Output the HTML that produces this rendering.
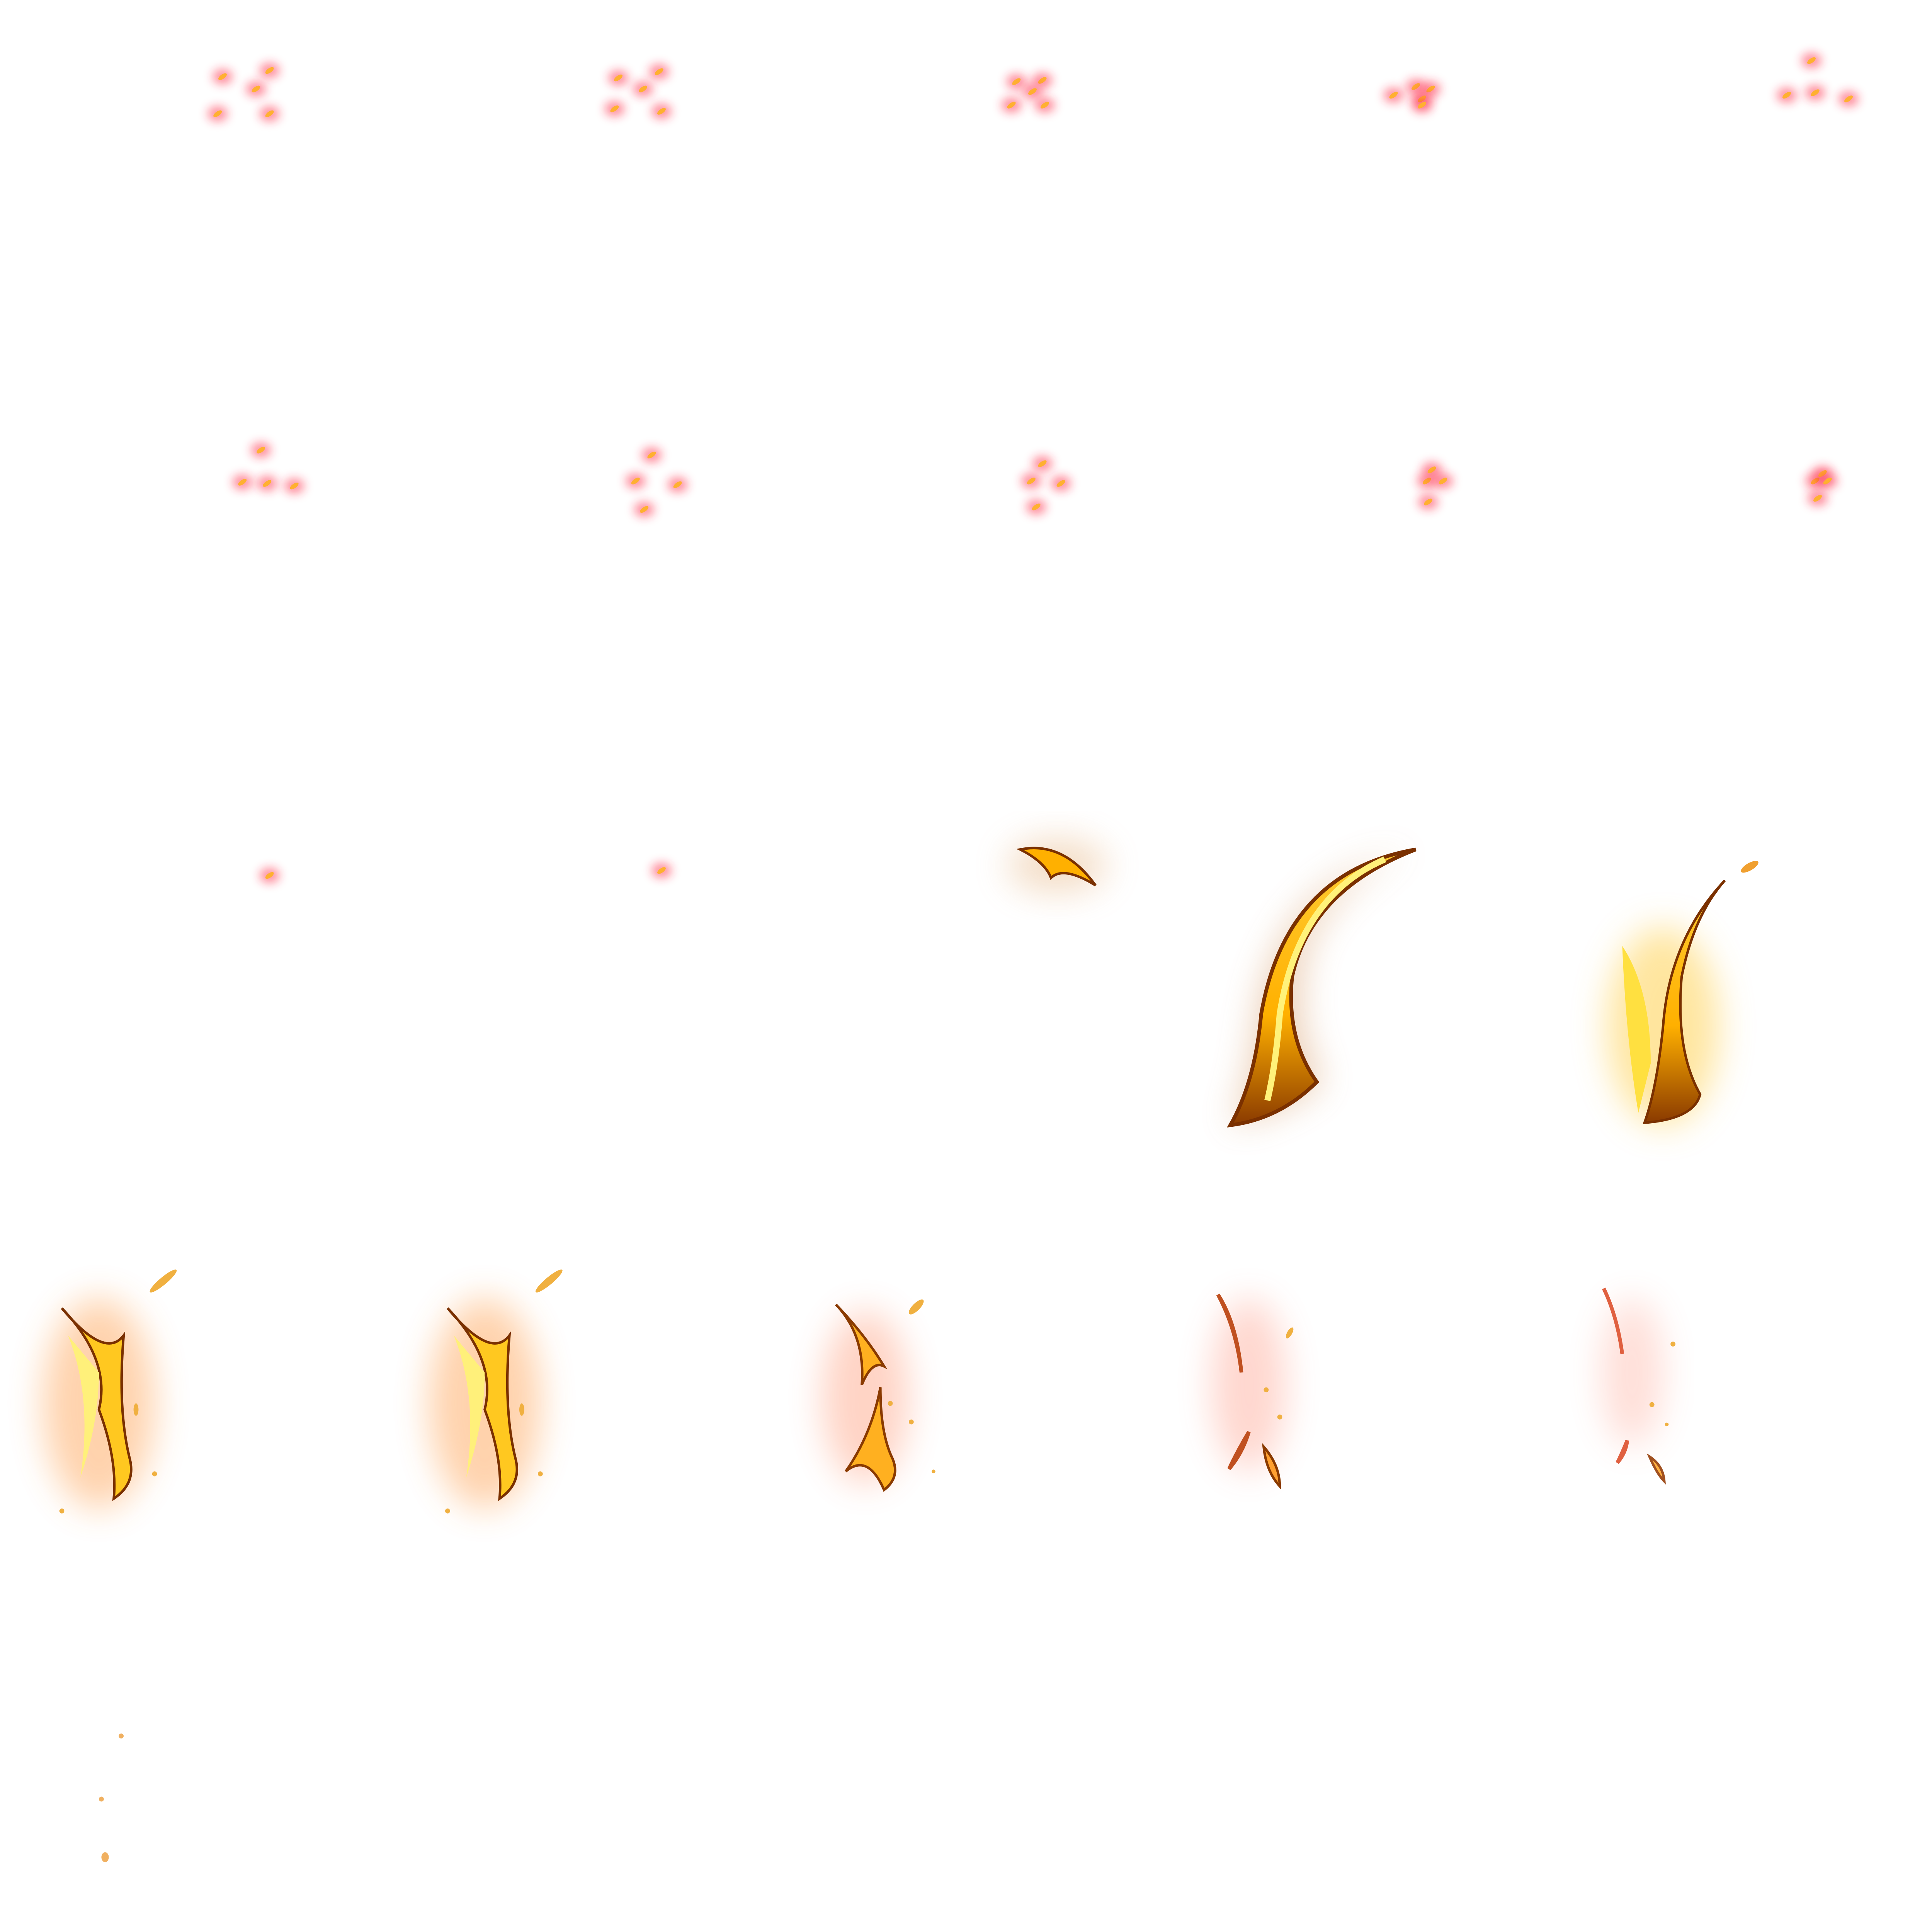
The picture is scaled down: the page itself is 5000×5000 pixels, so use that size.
<!DOCTYPE html>
<html><head><meta charset="utf-8"><style>
html,body{margin:0;padding:0;background:#fff;width:5000px;height:5000px;overflow:hidden}
svg{display:block}
</style></head><body>
<svg id="sheet" width="5000" height="5000" viewBox="0 0 1562.5 1562.5" xmlns="http://www.w3.org/2000/svg">
<defs>
<filter id="glow" x="-100%" y="-100%" width="300%" height="300%"><feGaussianBlur stdDeviation="4"/></filter>
<filter id="bigglow" x="-50%" y="-50%" width="200%" height="200%"><feGaussianBlur stdDeviation="14"/></filter>
<linearGradient id="flame" x1="0" y1="0" x2="0" y2="1"><stop offset="0" stop-color="#ffcc33"/><stop offset="0.6" stop-color="#ffb000"/><stop offset="1" stop-color="#8a3a00"/></linearGradient>
</defs>
<g id="sparks"></g>
<g id="flames">
  <g>
    <ellipse cx="855" cy="700" rx="40" ry="22" fill="#e0a060" opacity="0.35" filter="url(#bigglow)"/>
    <path d="M825 687 Q860 680 886 716 Q860 700 850 710 Q845 697 825 687Z" fill="#ffb000" stroke="#7a3000" stroke-width="2"/>
  </g>
  <g>
    <path d="M1145 687 Q1030 710 1015 830 Q1010 880 995 910 Q1040 900 1070 875 Q1040 820 1060 760 Q1090 705 1145 687Z" fill="#d08a50" opacity="0.4" filter="url(#bigglow)"/>
    <path d="M1145 687 Q1040 705 1020 820 Q1015 875 995 910 Q1035 905 1065 875 Q1040 840 1045 790 Q1060 720 1145 687Z" fill="url(#flame)" stroke="#7a3000" stroke-width="3"/>
    <path d="M1120 695 Q1050 725 1035 820 Q1032 860 1025 890" stroke="#fff27a" stroke-width="5" fill="none"/>
  </g>
  <g>
    <ellipse cx="1345" cy="830" rx="45" ry="80" fill="#ffcc40" opacity="0.5" filter="url(#bigglow)"/>
    <path d="M1395 712 Q1350 760 1345 830 Q1340 880 1330 908 Q1370 905 1375 885 Q1355 850 1360 790 Q1370 740 1395 712Z" fill="url(#flame)" stroke="#7a3000" stroke-width="2"/>
    <path d="M1312 765 Q1335 800 1335 860 L1325 900 Q1315 840 1312 765Z" fill="#ffe040"/>
    <ellipse cx="1415" cy="701" rx="8" ry="3" fill="#f0a030" transform="rotate(-30 1415 701)"/>
  </g>
</g>
<g id="row4"></g>
<g>
  <ellipse cx="700" cy="1130" rx="35" ry="70" fill="#ff7040" opacity="0.3" filter="url(#bigglow)"/>
  <path d="M676 1055 Q700 1080 697 1120 Q705 1100 715 1105 Q700 1080 676 1055Z" fill="#ffb020" stroke="#8a3a00" stroke-width="2"/>
  <path d="M712 1122 Q705 1160 684 1190 Q702 1175 715 1205 Q728 1195 722 1180 Q712 1160 712 1122Z" fill="#ffb020" stroke="#8a3a00" stroke-width="2"/>
  <ellipse cx="741" cy="1057" rx="8" ry="3" fill="#f0b040" transform="rotate(-45 741 1057)"/>
  <circle cx="720" cy="1135" r="2" fill="#f0b040"/><circle cx="737" cy="1150" r="2" fill="#f0b040"/><circle cx="755" cy="1190" r="1.5" fill="#f0b040"/>
</g>
<g>
  <ellipse cx="1010" cy="1120" rx="30" ry="70" fill="#ff6040" opacity="0.25" filter="url(#bigglow)"/>
  <path d="M985 1047 Q1000 1070 1004 1110 Q1000 1075 985 1047Z" fill="#ffa030" stroke="#c05020" stroke-width="3"/>
  <path d="M1010 1158 Q1000 1175 994 1188 Q1005 1175 1010 1158Z" fill="#ffa030" stroke="#c05020" stroke-width="3"/>
  <path d="M1022 1170 Q1024 1190 1035 1202 Q1035 1185 1022 1170Z" fill="#ffa030" stroke="#8a3a00" stroke-width="2"/>
  <ellipse cx="1043" cy="1078" rx="5" ry="2" fill="#f0b040" transform="rotate(-60 1043 1078)"/>
  <circle cx="1024" cy="1124" r="2" fill="#f0b040"/><circle cx="1035" cy="1146" r="2" fill="#f0b040"/>
</g>
<g>
  <ellipse cx="1320" cy="1110" rx="25" ry="60" fill="#ff6040" opacity="0.2" filter="url(#bigglow)"/>
  <path d="M1297 1042 Q1308 1065 1312 1095 Q1308 1065 1297 1042Z" fill="#ff8040" stroke="#e06040" stroke-width="3"/>
  <path d="M1316 1165 Q1312 1175 1308 1183 Q1315 1175 1316 1165Z" fill="#ff8040" stroke="#e06040" stroke-width="3"/>
  <path d="M1334 1178 Q1340 1192 1346 1198 Q1345 1185 1334 1178Z" fill="#ffb040" stroke="#a05020" stroke-width="2"/>
  <circle cx="1353" cy="1087" r="2" fill="#f0b040"/><circle cx="1336" cy="1136" r="2" fill="#f0b040"/><circle cx="1348" cy="1152" r="1.5" fill="#f0b040"/>
</g>
<g>
  <circle cx="98" cy="1404" r="2" fill="#f0b060"/><circle cx="82" cy="1455" r="2" fill="#f0b060"/><ellipse cx="85" cy="1502" rx="3" ry="4" fill="#f0b060"/>
</g>
</svg>
<script>
const sparkFrames = [
  [[180,62],[218,57],[207,72],[176,92],[218,92]],
  [[500,63],[533,58],[520,72],[497,88],[535,90]],
  [[822,66],[843,65],[835,74],[818,85],[845,85]],
  [[1127,77],[1145,70],[1157,72],[1150,80],[1150,85]],
  [[1445,77],[1465,49],[1468,75],[1495,80]],
  [[196,390],[211,364],[216,391],[238,393]],
  [[514,389],[527,368],[548,392],[521,412]],
  [[834,389],[843,375],[858,391],[838,410]],
  [[1154,389],[1158,380],[1167,389],[1155,406]],
  [[1468,389],[1474,383],[1478,389],[1470,403]],
  [[218,708]],
  [[535,704]]
];
const sg=document.getElementById('sparks');
const NS='http://www.w3.org/2000/svg';
sparkFrames.forEach((f,i)=>{
  const g=document.createElementNS(NS,'g');
  
  
  f.forEach(p=>{
    const halo=document.createElementNS(NS,'ellipse');
    halo.setAttribute('cx',p[0]);halo.setAttribute('cy',p[1]);halo.setAttribute('rx',8);halo.setAttribute('ry',6);
    halo.setAttribute('fill','#ff2040');halo.setAttribute('opacity','0.55');halo.setAttribute('filter','url(#glow)');
    g.appendChild(halo);
    const core=document.createElementNS(NS,'ellipse');
    core.setAttribute('cx',p[0]);core.setAttribute('cy',p[1]);core.setAttribute('rx',4);core.setAttribute('ry',1.8);
    core.setAttribute('fill','#ffb030');core.setAttribute('transform','rotate(-35 '+p[0]+' '+p[1]+')');
    g.appendChild(core);
  });
  sg.appendChild(g);
});
const row4X=[0,312];
const r4=document.getElementById('row4');
row4X.forEach((dx,i)=>{
  const g=document.createElementNS(NS,'g');
  
  
  g.setAttribute('transform','translate('+dx+',0)');
  let h='';
  h+='<ellipse cx="80" cy="1135" rx="45" ry="85" fill="#ff9030" opacity="0.4" filter="url(#bigglow)"/>';
  h+='<path d="M50 1058 Q90 1100 80 1140 Q95 1180 92 1212 Q110 1200 105 1180 Q95 1140 100 1080 Q85 1100 50 1058Z" fill="#ffc820" stroke="#7a3000" stroke-width="2"/>';
  h+='<path d="M55 1080 Q75 1130 65 1195 Q80 1150 80 1110Z" fill="#fff07a"/>';
  h+='<ellipse cx="132" cy="1036" rx="14" ry="3" fill="#f0b040" transform="rotate(-40 132 1036)"/>';
  h+='<circle cx="125" cy="1192" r="2" fill="#f0b040"/><circle cx="50" cy="1222" r="2" fill="#f0b040"/><ellipse cx="110" cy="1140" rx="2" ry="5" fill="#f0b040"/>';
  g.innerHTML=h;
  r4.appendChild(g);
});
</script>
</body></html>
